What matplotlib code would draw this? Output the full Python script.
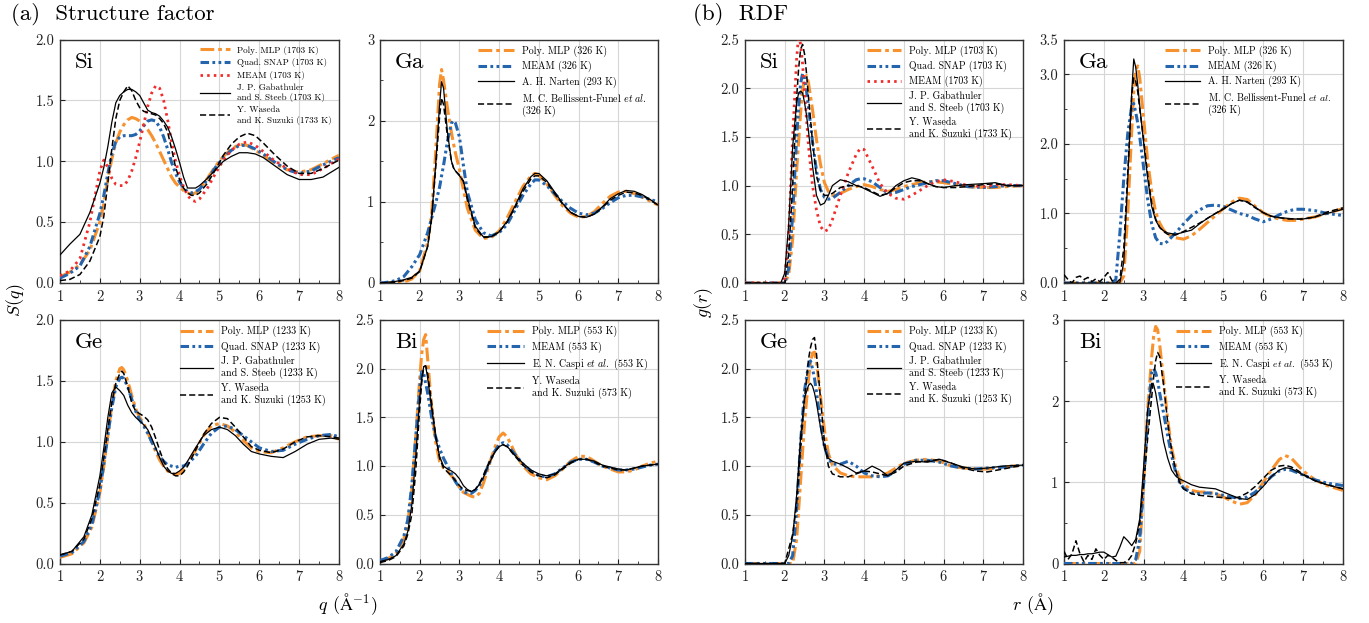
import matplotlib
matplotlib.use('Agg')
import matplotlib.pyplot as plt
from matplotlib.ticker import MultipleLocator, FormatStrFormatter

plt.rcParams['font.family'] = 'serif'
plt.rcParams['font.serif'] = ['cmr10']
plt.rcParams['mathtext.fontset'] = 'cm'
plt.rcParams['axes.formatter.use_mathtext'] = True

# ---------------- (a) structure factor S(q) ----------------
# Si
sq_si_x = [1.0, 1.25, 1.5, 1.75,
           2.0, 2.1, 2.2, 2.3, 2.4, 2.5, 2.6, 2.7, 2.8, 2.9,
           3.0, 3.1, 3.2, 3.3, 3.4, 3.5, 3.6, 3.7, 3.8, 3.9,
           4.0, 4.1, 4.2, 4.3, 4.4, 4.5,
           4.7, 4.9, 5.1, 5.3, 5.5, 5.7, 5.9, 6.1,
           6.4, 6.7, 7.0, 7.3, 7.6, 8.0]
sq_si_mlp = [0.05, 0.09, 0.15, 0.27,
             0.50, 0.65, 0.85, 1.02, 1.15, 1.24, 1.30, 1.34, 1.36, 1.35,
             1.33, 1.30, 1.26, 1.21, 1.15, 1.08, 1.01, 0.94, 0.87, 0.82,
             0.79, 0.76, 0.74, 0.73, 0.74, 0.77,
             0.86, 0.96, 1.04, 1.10, 1.14, 1.13, 1.09, 1.05,
             0.98, 0.93, 0.91, 0.93, 0.98, 1.05]
sq_si_snap = [0.04, 0.08, 0.14, 0.30,
              0.57, 0.72, 0.90, 1.06, 1.16, 1.20, 1.21, 1.21, 1.21, 1.22,
              1.25, 1.29, 1.33, 1.34, 1.33, 1.28, 1.20, 1.10, 0.99, 0.90,
              0.83, 0.78, 0.75, 0.74, 0.75, 0.77,
              0.85, 0.95, 1.03, 1.09, 1.13, 1.13, 1.10, 1.06,
              0.99, 0.93, 0.90, 0.92, 0.97, 1.03]
sq_si_meam = [0.06, 0.10, 0.20, 0.50,
              0.92, 1.01, 0.95, 0.86, 0.81, 0.80, 0.80, 0.84, 0.92, 1.03,
              1.16, 1.30, 1.45, 1.56, 1.62, 1.60, 1.50, 1.34, 1.16, 1.00,
              0.88, 0.79, 0.72, 0.68, 0.67, 0.69,
              0.78, 0.90, 1.01, 1.09, 1.14, 1.16, 1.13, 1.08,
              1.00, 0.94, 0.89, 0.89, 0.94, 1.02]
sq_si_gab = [0.23, 0.32, 0.40, 0.58,
             0.82, 0.95, 1.12, 1.32, 1.48, 1.54, 1.57, 1.59, 1.59, 1.57,
             1.54, 1.48, 1.42, 1.40, 1.39, 1.37, 1.33, 1.28, 1.20, 1.10,
             0.99, 0.87, 0.78, 0.78, 0.78, 0.80,
             0.86, 0.93, 1.00, 1.04, 1.07, 1.07, 1.06, 1.03,
             0.96, 0.89, 0.85, 0.85, 0.87, 0.95]
sq_si_was = [0.02, 0.03, 0.07, 0.18,
             0.38, 0.55, 0.82, 1.10, 1.35, 1.50, 1.57, 1.62, 1.58, 1.50,
             1.44, 1.41, 1.40, 1.39, 1.38, 1.35, 1.31, 1.24, 1.10, 0.95,
             0.85, 0.78, 0.74, 0.72, 0.72, 0.74,
             0.82, 0.93, 1.05, 1.14, 1.20, 1.23, 1.21, 1.15,
             1.05, 0.96, 0.90, 0.90, 0.94, 1.01]

# Ga
sq_ga_x = [1.0, 1.2, 1.4, 1.6, 1.8, 2.0,
           2.2, 2.3, 2.4, 2.5, 2.55, 2.6, 2.7, 2.8, 2.85, 2.9,
           3.0, 3.1, 3.2, 3.4, 3.6, 3.8, 4.0, 4.2, 4.4, 4.6,
           4.8, 4.9, 5.0, 5.2, 5.4, 5.6, 5.8, 6.0, 6.2, 6.4,
           6.6, 6.8, 7.0, 7.2, 7.4, 7.6, 7.8, 8.0]
sq_ga_mlp = [0.0, 0.0, 0.0, 0.01, 0.05, 0.15,
             0.50, 0.85, 1.60, 2.45, 2.63, 2.50, 2.15, 1.85, 1.72, 1.60,
             1.40, 1.15, 0.92, 0.65, 0.55, 0.56, 0.64, 0.80, 1.00, 1.19,
             1.32, 1.35, 1.33, 1.22, 1.08, 0.95, 0.86, 0.81, 0.82, 0.88,
             0.98, 1.07, 1.12, 1.13, 1.10, 1.06, 1.01, 0.96]
sq_ga_meam = [0.0, 0.01, 0.03, 0.08, 0.20, 0.35,
              0.62, 0.80, 0.98, 1.18, 1.32, 1.45, 1.75, 1.97, 2.00, 1.97,
              1.80, 1.45, 1.12, 0.78, 0.62, 0.58, 0.62, 0.72, 0.90, 1.08,
              1.22, 1.27, 1.27, 1.20, 1.10, 1.00, 0.92, 0.86, 0.84, 0.86,
              0.92, 0.99, 1.05, 1.08, 1.08, 1.06, 1.03, 1.00]
sq_ga_nar = [0.0, 0.01, 0.02, 0.04, 0.07, 0.15,
             0.45, 0.80, 1.45, 2.20, 2.48, 2.40, 1.85, 1.50, 1.42, 1.38,
             1.32, 1.26, 1.05, 0.70, 0.57, 0.57, 0.63, 0.76, 0.95, 1.16,
             1.31, 1.35, 1.35, 1.26, 1.12, 0.98, 0.87, 0.82, 0.81, 0.85,
             0.94, 1.04, 1.10, 1.14, 1.13, 1.09, 1.03, 0.96]
sq_ga_bel = [0.0, 0.0, 0.01, 0.03, 0.06, 0.14,
             0.45, 0.80, 1.40, 2.05, 2.28, 2.20, 1.80, 1.50, 1.42, 1.38,
             1.33, 1.25, 1.02, 0.68, 0.56, 0.57, 0.63, 0.75, 0.93, 1.13,
             1.28, 1.32, 1.32, 1.24, 1.10, 0.97, 0.87, 0.82, 0.81, 0.85,
             0.93, 1.02, 1.08, 1.12, 1.11, 1.08, 1.02, 0.96]

# Ge
sq_ge_x = [1.0, 1.3, 1.6, 1.8, 2.0, 2.1, 2.2, 2.3, 2.4, 2.5,
           2.55, 2.6, 2.7, 2.8, 2.9, 3.0, 3.1, 3.2, 3.3, 3.4,
           3.5, 3.6, 3.7, 3.8, 3.9, 4.0, 4.1, 4.2, 4.4, 4.6,
           4.8, 5.0, 5.2, 5.4, 5.6, 5.8, 6.0, 6.3, 6.6, 6.9,
           7.2, 7.5, 7.8, 8.0]
sq_ge_mlp = [0.05, 0.08, 0.17, 0.30, 0.58, 0.80, 1.05, 1.30, 1.50, 1.60,
             1.61, 1.59, 1.50, 1.38, 1.27, 1.20, 1.15, 1.08, 1.00, 0.92,
             0.85, 0.80, 0.76, 0.74, 0.73, 0.74, 0.77, 0.82, 0.93, 1.05,
             1.13, 1.15, 1.13, 1.08, 1.01, 0.95, 0.92, 0.91, 0.95, 1.00,
             1.04, 1.05, 1.05, 1.02]
sq_ge_snap = [0.06, 0.09, 0.18, 0.32, 0.60, 0.82, 1.05, 1.28, 1.45, 1.52,
              1.53, 1.52, 1.45, 1.35, 1.25, 1.18, 1.13, 1.07, 1.00, 0.94,
              0.88, 0.84, 0.81, 0.80, 0.79, 0.80, 0.80, 0.82, 0.88, 0.98,
              1.07, 1.12, 1.13, 1.10, 1.05, 1.00, 0.95, 0.92, 0.93, 0.98,
              1.02, 1.05, 1.06, 1.04]
sq_ge_gab = [0.07, 0.10, 0.22, 0.40, 0.72, 0.95, 1.20, 1.40, 1.45, 1.42,
             1.40, 1.38, 1.30, 1.24, 1.20, 1.17, 1.14, 1.10, 1.03, 0.95,
             0.87, 0.80, 0.76, 0.74, 0.74, 0.76, 0.79, 0.84, 0.95, 1.05,
             1.10, 1.12, 1.10, 1.05, 0.98, 0.92, 0.90, 0.88, 0.87, 0.92,
             0.98, 1.02, 1.03, 1.02]
sq_ge_was = [0.07, 0.10, 0.20, 0.37, 0.65, 0.87, 1.10, 1.32, 1.48, 1.56,
             1.58, 1.56, 1.45, 1.32, 1.25, 1.23, 1.21, 1.18, 1.12, 1.03,
             0.93, 0.84, 0.78, 0.74, 0.72, 0.72, 0.75, 0.80, 0.93, 1.06,
             1.15, 1.20, 1.19, 1.12, 1.04, 0.96, 0.93, 0.91, 0.94, 1.00,
             1.04, 1.05, 1.04, 1.03]

# Bi
sq_bi_x = [1.0, 1.2, 1.4, 1.6, 1.7, 1.8, 1.9, 2.0, 2.05, 2.1,
           2.15, 2.2, 2.3, 2.4, 2.5, 2.6, 2.7, 2.8, 2.9, 3.0,
           3.1, 3.2, 3.3, 3.4, 3.5, 3.6, 3.7, 3.8, 3.9, 4.0,
           4.1, 4.2, 4.3, 4.4, 4.6, 4.8, 5.0, 5.2, 5.4, 5.6,
           5.8, 6.0, 6.2, 6.4, 6.6, 6.8, 7.0, 7.2, 7.4, 7.6,
           7.8, 8.0]
sq_bi_mlp = [0.02, 0.05, 0.10, 0.25, 0.42, 0.75, 1.30, 1.90, 2.15, 2.30,
             2.35, 2.10, 1.60, 1.25, 1.05, 0.98, 0.95, 0.90, 0.85, 0.78,
             0.73, 0.71, 0.69, 0.68, 0.72, 0.82, 0.95, 1.08, 1.20, 1.30,
             1.34, 1.30, 1.22, 1.13, 1.00, 0.92, 0.88, 0.86, 0.90, 0.97,
             1.05, 1.10, 1.10, 1.05, 1.00, 0.97, 0.94, 0.94, 0.96, 1.00,
             1.03, 1.05]
sq_bi_meam = [0.03, 0.06, 0.12, 0.28, 0.45, 0.80, 1.30, 1.80, 1.97, 1.95,
              1.85, 1.75, 1.50, 1.30, 1.18, 1.08, 1.00, 0.92, 0.84, 0.78,
              0.74, 0.72, 0.72, 0.75, 0.80, 0.88, 0.98, 1.08, 1.16, 1.22,
              1.24, 1.22, 1.17, 1.12, 1.02, 0.95, 0.90, 0.89, 0.92, 0.98,
              1.04, 1.07, 1.07, 1.04, 1.00, 0.98, 0.96, 0.96, 0.97, 0.99,
              1.01, 1.02]
sq_bi_cas = [0.02, 0.04, 0.08, 0.20, 0.33, 0.60, 1.10, 1.70, 1.90, 2.02,
             2.03, 1.90, 1.60, 1.30, 1.10, 1.00, 0.97, 0.95, 0.92, 0.87,
             0.80, 0.76, 0.74, 0.76, 0.81, 0.88, 0.98, 1.07, 1.15, 1.20,
             1.22, 1.20, 1.16, 1.11, 1.03, 0.96, 0.92, 0.90, 0.92, 0.98,
             1.04, 1.07, 1.07, 1.05, 1.01, 0.99, 0.97, 0.96, 0.98, 1.00,
             1.01, 1.02]
sq_bi_was = [0.01, 0.03, 0.07, 0.18, 0.30, 0.50, 0.95, 1.60, 1.85, 2.02,
             2.03, 1.95, 1.65, 1.32, 1.08, 0.98, 0.94, 0.90, 0.85, 0.80,
             0.76, 0.75, 0.74, 0.76, 0.82, 0.90, 1.00, 1.08, 1.15, 1.20,
             1.22, 1.20, 1.15, 1.10, 1.01, 0.94, 0.90, 0.88, 0.91, 0.97,
             1.03, 1.07, 1.07, 1.04, 1.00, 0.98, 0.96, 0.96, 0.98, 1.00,
             1.01, 1.02]

# ---------------- (b) radial distribution g(r) ----------------
# Si
gr_si_x = [1.0, 1.5, 1.9, 2.0, 2.1, 2.2, 2.3, 2.35, 2.4, 2.45,
           2.5, 2.55, 2.6, 2.7, 2.8, 2.9, 3.0, 3.1, 3.2, 3.4,
           3.6, 3.8, 3.9, 4.0, 4.2, 4.4, 4.6, 4.8, 5.0, 5.2,
           5.4, 5.6, 5.8, 6.0, 6.3, 6.6, 7.0, 7.3, 7.6, 8.0]
gr_si_mlp = [0.0, 0.0, 0.0, 0.0, 0.08, 0.45, 1.15, 1.45, 1.75, 1.98,
             2.10, 2.13, 2.05, 1.78, 1.47, 1.22, 1.03, 0.94, 0.90, 0.92,
             0.96, 0.99, 1.00, 1.01, 0.99, 0.96, 0.94, 0.96, 0.99, 1.01,
             1.03, 1.04, 1.04, 1.03, 1.01, 0.99, 0.98, 0.98, 0.99, 1.00]
gr_si_snap = [0.0, 0.0, 0.0, 0.0, 0.15, 0.70, 1.50, 1.80, 2.05, 2.15,
              2.10, 1.97, 1.80, 1.45, 1.15, 0.96, 0.88, 0.86, 0.87, 0.93,
              1.00, 1.06, 1.07, 1.07, 1.04, 0.98, 0.92, 0.93, 0.96, 0.99,
              1.01, 1.03, 1.05, 1.05, 1.02, 0.99, 0.98, 0.99, 1.00, 1.00]
gr_si_meam = [0.0, 0.0, 0.0, 0.05, 0.50, 1.50, 2.30, 2.55, 2.45, 2.25,
              1.95, 1.68, 1.40, 1.00, 0.75, 0.58, 0.53, 0.55, 0.65, 0.90,
              1.13, 1.32, 1.38, 1.37, 1.20, 1.02, 0.92, 0.87, 0.86, 0.90,
              0.95, 1.00, 1.04, 1.06, 1.04, 1.00, 0.99, 1.01, 1.01, 1.00]
gr_si_gab = [0.0, 0.0, 0.0, 0.10, 0.60, 1.40, 1.85, 1.95, 1.97, 1.95,
             1.85, 1.72, 1.55, 1.20, 0.90, 0.80, 0.82, 0.90, 1.00, 1.06,
             1.04, 1.00, 0.99, 0.97, 0.93, 0.89, 0.92, 1.00, 1.05, 1.08,
             1.06, 1.02, 0.99, 0.98, 1.00, 1.01, 1.02, 1.03, 1.00, 1.00]
gr_si_was = [0.0, 0.0, 0.0, 0.0, 0.30, 1.00, 1.90, 2.20, 2.40, 2.45,
             2.35, 2.15, 1.90, 1.45, 1.10, 0.95, 0.90, 0.90, 0.92, 0.98,
             1.00, 1.00, 0.99, 0.98, 0.94, 0.90, 0.92, 0.98, 1.03, 1.05,
             1.05, 1.02, 0.99, 0.98, 0.98, 0.99, 1.01, 1.02, 1.00, 1.00]

# Ga
gr_ga_x = [1.0, 1.1, 1.2, 1.3, 1.4, 1.5, 1.6, 1.7, 1.8, 1.9,
           2.0, 2.1, 2.2, 2.3, 2.4, 2.5, 2.6, 2.7, 2.75, 2.8,
           2.85, 2.9, 3.0, 3.1, 3.2, 3.3, 3.4, 3.5, 3.6, 3.8,
           4.0, 4.2, 4.4, 4.6, 4.8, 5.0, 5.2, 5.4, 5.6, 5.8,
           6.0, 6.2, 6.4, 6.6, 6.8, 7.0, 7.3, 7.6, 8.0]
gr_ga_mlp = [0.0, 0.0, 0.0, 0.0, 0.0, 0.0, 0.0, 0.0, 0.0, 0.0,
             0.0, 0.0, 0.0, 0.0, 0.0, 0.10, 1.00, 2.20, 2.75, 3.05,
             3.12, 2.95, 2.35, 1.75, 1.32, 1.02, 0.86, 0.76, 0.70, 0.65,
             0.63, 0.68, 0.77, 0.87, 0.97, 1.07, 1.16, 1.22, 1.20, 1.10,
             1.01, 0.95, 0.92, 0.90, 0.90, 0.92, 0.95, 1.00, 1.07]
gr_ga_meam = [0.0, 0.0, 0.0, 0.0, 0.0, 0.0, 0.0, 0.0, 0.0, 0.0,
              0.0, 0.0, 0.0, 0.05, 0.70, 1.50, 2.15, 2.55, 2.58, 2.45,
              2.30, 2.10, 1.65, 1.20, 0.85, 0.65, 0.57, 0.56, 0.60, 0.72,
              0.85, 0.97, 1.05, 1.11, 1.12, 1.10, 1.05, 1.00, 0.97, 0.92,
              0.88, 0.92, 0.98, 1.03, 1.06, 1.06, 1.04, 1.00, 0.97]
gr_ga_nar = [0.0, 0.0, 0.0, 0.0, 0.0, 0.0, 0.0, 0.0, 0.0, 0.0,
             0.0, 0.0, 0.0, 0.0, 0.0, 0.30, 1.50, 2.75, 3.22, 3.10,
             2.85, 2.55, 2.00, 1.50, 1.10, 0.90, 0.80, 0.75, 0.72, 0.70,
             0.73, 0.76, 0.85, 0.93, 1.00, 1.06, 1.14, 1.19, 1.17, 1.09,
             1.01, 0.96, 0.94, 0.93, 0.92, 0.92, 0.95, 1.00, 1.06]
gr_ga_bel = [0.12, 0.05, 0.0, 0.08, 0.10, 0.05, 0.08, 0.02, 0.06, 0.02,
             0.08, 0.15, 0.04, 0.0, 0.05, 0.50, 1.60, 2.70, 2.95, 2.90,
             2.75, 2.50, 2.05, 1.55, 1.15, 0.92, 0.80, 0.74, 0.70, 0.69,
             0.74, 0.80, 0.86, 0.93, 1.00, 1.07, 1.14, 1.19, 1.16, 1.08,
             1.01, 0.96, 0.94, 0.92, 0.92, 0.92, 0.95, 1.02, 1.08]

# Ge
gr_ge_x = [1.0, 1.5, 2.0, 2.1, 2.2, 2.3, 2.4, 2.5, 2.6, 2.65,
           2.7, 2.75, 2.8, 2.9, 3.0, 3.1, 3.2, 3.4, 3.6, 3.8,
           4.0, 4.2, 4.4, 4.6, 4.8, 5.0, 5.3, 5.6, 5.9, 6.2,
           6.5, 6.8, 7.1, 7.5, 8.0]
gr_ge_mlp = [0.0, 0.0, 0.0, 0.0, 0.0, 0.25, 0.85, 1.45, 1.90, 2.07,
             2.16, 2.17, 2.07, 1.72, 1.37, 1.13, 1.01, 0.93, 0.90, 0.89,
             0.89, 0.89, 0.90, 0.93, 0.98, 1.03, 1.06, 1.07, 1.05, 1.00,
             0.98, 0.97, 0.97, 0.99, 1.01]
gr_ge_snap = [0.0, 0.0, 0.0, 0.0, 0.08, 0.55, 1.25, 1.78, 2.04, 2.08,
              2.00, 1.90, 1.76, 1.45, 1.20, 1.08, 1.02, 1.02, 1.05, 1.00,
              0.93, 0.90, 0.89, 0.90, 0.95, 1.02, 1.06, 1.06, 1.04, 1.00,
              0.98, 0.97, 0.98, 0.99, 1.01]
gr_ge_gab = [0.0, 0.0, 0.0, 0.08, 0.28, 0.70, 1.30, 1.70, 1.83, 1.85,
             1.82, 1.75, 1.65, 1.40, 1.18, 1.08, 1.05, 1.02, 0.98, 0.93,
             0.95, 1.00, 0.96, 0.90, 0.96, 1.03, 1.05, 1.04, 1.07, 1.03,
             0.99, 0.97, 0.98, 1.00, 1.01]
gr_ge_was = [0.0, 0.0, 0.0, 0.15, 0.30, 0.60, 1.20, 1.70, 2.10, 2.22,
             2.30, 2.32, 2.15, 1.70, 1.25, 1.00, 0.92, 0.89, 0.89, 0.92,
             0.95, 0.94, 0.92, 0.90, 0.94, 1.00, 1.04, 1.05, 1.07, 1.03,
             0.98, 0.95, 0.94, 0.97, 1.01]

# Bi
gr_bi_x = [1.0, 1.1, 1.2, 1.3, 1.4, 1.5, 1.6, 1.7, 1.8, 1.9,
           2.0, 2.1, 2.2, 2.3, 2.4, 2.5, 2.6, 2.7, 2.8, 2.9,
           3.0, 3.1, 3.2, 3.25, 3.3, 3.35, 3.4, 3.5, 3.6, 3.7,
           3.8, 3.9, 4.0, 4.2, 4.4, 4.6, 4.8, 5.0, 5.2, 5.4,
           5.6, 5.8, 6.0, 6.2, 6.4, 6.55, 6.7, 6.85, 7.0, 7.3,
           7.6, 8.0]
gr_bi_mlp = [0.0, 0.0, 0.0, 0.0, 0.0, 0.0, 0.0, 0.0, 0.0, 0.0,
             0.0, 0.0, 0.0, 0.0, 0.0, 0.0, 0.0, 0.0, 0.0, 0.15,
             1.00, 1.90, 2.55, 2.80, 2.92, 2.88, 2.70, 2.25, 1.78, 1.42,
             1.20, 1.05, 0.98, 0.90, 0.88, 0.88, 0.86, 0.82, 0.77, 0.73,
             0.75, 0.85, 1.00, 1.15, 1.28, 1.33, 1.30, 1.22, 1.14, 1.03,
             0.96, 0.90]
gr_bi_meam = [0.0, 0.0, 0.0, 0.0, 0.0, 0.0, 0.0, 0.0, 0.0, 0.0,
              0.0, 0.0, 0.0, 0.0, 0.0, 0.0, 0.0, 0.0, 0.05, 0.30,
              1.00, 1.80, 2.35, 2.40, 2.35, 2.25, 2.10, 1.85, 1.58, 1.33,
              1.13, 1.00, 0.93, 0.87, 0.86, 0.87, 0.86, 0.84, 0.82, 0.80,
              0.82, 0.88, 0.97, 1.07, 1.14, 1.16, 1.15, 1.12, 1.09, 1.03,
              0.99, 0.96]
gr_bi_cas = [0.08, 0.09, 0.10, 0.10, 0.11, 0.11, 0.12, 0.12, 0.13, 0.14,
             0.14, 0.11, 0.08, 0.09, 0.20, 0.33, 0.28, 0.22, 0.30, 0.55,
             1.20, 1.90, 2.22, 2.20, 2.10, 1.95, 1.80, 1.50, 1.30, 1.15,
             1.08, 1.04, 1.02, 0.97, 0.94, 0.93, 0.92, 0.88, 0.84, 0.80,
             0.79, 0.85, 0.95, 1.07, 1.15, 1.18, 1.17, 1.13, 1.09, 1.02,
             0.97, 0.92]
gr_bi_was = [0.15, 0.05, 0.12, 0.28, 0.12, 0.02, 0.10, 0.05, 0.18, 0.10,
             0.05, 0.10, 0.08, 0.04, 0.01, 0.01, 0.03, 0.10, 0.25, 0.50,
             1.00, 1.55, 2.05, 2.30, 2.50, 2.60, 2.55, 2.20, 1.75, 1.40,
             1.15, 1.00, 0.92, 0.86, 0.84, 0.83, 0.82, 0.81, 0.80, 0.82,
             0.87, 0.95, 1.05, 1.15, 1.20, 1.21, 1.19, 1.15, 1.10, 1.02,
             0.97, 0.92]

# line styles
ORANGE = '#F7922E'
BLUE = '#2465AE'
RED = '#F22B2B'
styles = {
    'mlp': dict(color=ORANGE, lw=2.2, ls=(0, (4.5, 1.3, 1.2, 1.3)), zorder=3),
    'snap': dict(color=BLUE, lw=2.2, ls=(0, (2.8, 1.1, 0.9, 1.1, 0.9, 1.1)), zorder=3),
    'red': dict(color=RED, lw=2.0, ls=(0, (0.9, 1.5)), zorder=3),
    'solid': dict(color='black', lw=0.9, ls='-', zorder=4),
    'dash': dict(color='black', lw=1.1, ls=(0, (4, 2)), zorder=4),
}

W, H = 1369, 623
fig = plt.figure(figsize=(W / 100, H / 100), dpi=100)


def rect(l, r, t, b):
    return [l / W, 1 - b / H, (r - l) / W, (b - t) / H]


def panel(box, x, series, name, ylim, yticks, yfmt, ymin, lx, fs, hl):
    ax = fig.add_axes(box)
    for y, key, lab in series:
        ax.plot(x, y, label=lab, **styles[key])
    ax.set_xlim(1, 8)
    ax.set_ylim(*ylim)
    ax.set_xticks(range(1, 9))
    ax.xaxis.set_minor_locator(MultipleLocator(0.5))
    ax.set_yticks(yticks)
    if ymin:
        ax.yaxis.set_minor_locator(MultipleLocator(ymin))
    ax.yaxis.set_major_formatter(FormatStrFormatter(yfmt))
    ax.grid(True, which='major', color='#d6d6d6', lw=0.8)
    ax.set_axisbelow(True)
    ax.tick_params(which='both', direction='in', labelsize=10.5, colors='#222222')
    ax.tick_params(which='major', length=3.5, width=0.8, pad=4)
    ax.tick_params(which='minor', length=2, width=0.6)
    for s in ax.spines.values():
        s.set_color('#333333')
        s.set_linewidth(1.0)
    ax.text(0.054, 0.907, name, transform=ax.transAxes, fontsize=16.5, va='center', ha='left')
    ax.legend(loc='upper left', bbox_to_anchor=(lx, 0.975), frameon=False, fontsize=fs,
              handlelength=hl, handletextpad=0.8, labelspacing=0.4, borderpad=0,
              borderaxespad=0)
    return ax


# (a) S(q)
panel(rect(60, 339, 39.5, 283), sq_si_x,
      [(sq_si_mlp, 'mlp', 'Poly. MLP (1703 K)'),
       (sq_si_snap, 'snap', 'Quad. SNAP (1703 K)'),
       (sq_si_meam, 'red', 'MEAM (1703 K)'),
       (sq_si_gab, 'solid', 'J. P. Gabathuler\nand S. Steeb (1703 K)'),
       (sq_si_was, 'dash', 'Y. Waseda\nand K. Suzuki (1733 K)')],
      'Si', (0, 2.0), [0, 0.5, 1.0, 1.5, 2.0], '%.1f', None, 0.502, 6.5, 3.3)
panel(rect(380, 658, 39.5, 283), sq_ga_x,
      [(sq_ga_mlp, 'mlp', 'Poly. MLP (326 K)'),
       (sq_ga_meam, 'snap', 'MEAM (326 K)'),
       (sq_ga_nar, 'solid', 'A. H. Narten (293 K)'),
       (sq_ga_bel, 'dash', 'M. C. Bellissent-Funel $\\mathit{et\\ al.}$\n(326 K)')],
      'Ga', (0, 3), [0, 1, 2, 3], '%d', 0.5, 0.353, 7.2, 3.6)
panel(rect(60, 339, 320, 563.5), sq_ge_x,
      [(sq_ge_mlp, 'mlp', 'Poly. MLP (1233 K)'),
       (sq_ge_snap, 'snap', 'Quad. SNAP (1233 K)'),
       (sq_ge_gab, 'solid', 'J. P. Gabathuler\nand S. Steeb (1233 K)'),
       (sq_ge_was, 'dash', 'Y. Waseda\nand K. Suzuki (1253 K)')],
      'Ge', (0, 2.0), [0, 0.5, 1.0, 1.5, 2.0], '%.1f', None, 0.43, 7.2, 3.3)
panel(rect(380, 658, 320, 563.5), sq_bi_x,
      [(sq_bi_mlp, 'mlp', 'Poly. MLP (553 K)'),
       (sq_bi_meam, 'snap', 'MEAM (553 K)'),
       (sq_bi_cas, 'solid', 'E. N. Caspi $\\mathit{et\\ al.}$ (553 K)'),
       (sq_bi_was, 'dash', 'Y. Waseda\nand K. Suzuki (573 K)')],
      'Bi', (0, 2.5), [0, 0.5, 1.0, 1.5, 2.0, 2.5], '%.1f', None, 0.384, 7.2, 3.7)

# (b) g(r)
panel(rect(745, 1023, 39.5, 283), gr_si_x,
      [(gr_si_mlp, 'mlp', 'Poly. MLP (1703 K)'),
       (gr_si_snap, 'snap', 'Quad. SNAP (1703 K)'),
       (gr_si_meam, 'red', 'MEAM (1703 K)'),
       (gr_si_gab, 'solid', 'J. P. Gabathuler\nand S. Steeb (1703 K)'),
       (gr_si_was, 'dash', 'Y. Waseda\nand K. Suzuki (1733 K)')],
      'Si', (0, 2.5), [0, 0.5, 1.0, 1.5, 2.0, 2.5], '%.1f', None, 0.439, 7.1, 3.45)
panel(rect(1064, 1343, 39.5, 283), gr_ga_x,
      [(gr_ga_mlp, 'mlp', 'Poly. MLP (326 K)'),
       (gr_ga_meam, 'snap', 'MEAM (326 K)'),
       (gr_ga_nar, 'solid', 'A. H. Narten (293 K)'),
       (gr_ga_bel, 'dash', 'M. C. Bellissent-Funel $\\mathit{et\\ al.}$\n(326 K)')],
      'Ga', (0, 3.5), [0, 1.0, 2.0, 3.0, 3.5], '%.1f', 0.5, 0.362, 7.1, 3.55)
panel(rect(745, 1023, 320, 563.5), gr_ge_x,
      [(gr_ge_mlp, 'mlp', 'Poly. MLP (1233 K)'),
       (gr_ge_snap, 'snap', 'Quad. SNAP (1233 K)'),
       (gr_ge_gab, 'solid', 'J. P. Gabathuler\nand S. Steeb (1233 K)'),
       (gr_ge_was, 'dash', 'Y. Waseda\nand K. Suzuki (1253 K)')],
      'Ge', (0, 2.5), [0, 0.5, 1.0, 1.5, 2.0, 2.5], '%.1f', None, 0.439, 7.1, 3.45)
panel(rect(1064, 1343, 320, 563.5), gr_bi_x,
      [(gr_bi_mlp, 'mlp', 'Poly. MLP (553 K)'),
       (gr_bi_meam, 'snap', 'MEAM (553 K)'),
       (gr_bi_cas, 'solid', 'E. N. Caspi $\\mathit{et\\ al.}$ (553 K)'),
       (gr_bi_was, 'dash', 'Y. Waseda\nand K. Suzuki (573 K)')],
      'Bi', (0, 3), [0, 1, 2, 3], '%d', 0.5, 0.401, 7.1, 3.55)

# headings and axis labels
fig.text(11 / W, 1 - 14 / H, '(a)  Structure factor', fontsize=16.5, va='center', ha='left')
fig.text(693 / W, 1 - 14 / H, '(b)  RDF', fontsize=16.5, va='center', ha='left')
fig.text(16 / W, 1 - 300 / H, '$S(q)$', fontsize=13, rotation=90, va='center', ha='center')
fig.text(704 / W, 1 - 302 / H, '$g(r)$', fontsize=13, rotation=90, va='center', ha='center')
fig.text(348 / W, 1 - 604 / H, '$q$ ($\\mathrm{\\AA}^{-1}$)', fontsize=13, va='center', ha='center')
fig.text(1033 / W, 1 - 604 / H, '$r$ ($\\mathrm{\\AA}$)', fontsize=13, va='center', ha='center')

fig.savefig('out.png', dpi=100)
